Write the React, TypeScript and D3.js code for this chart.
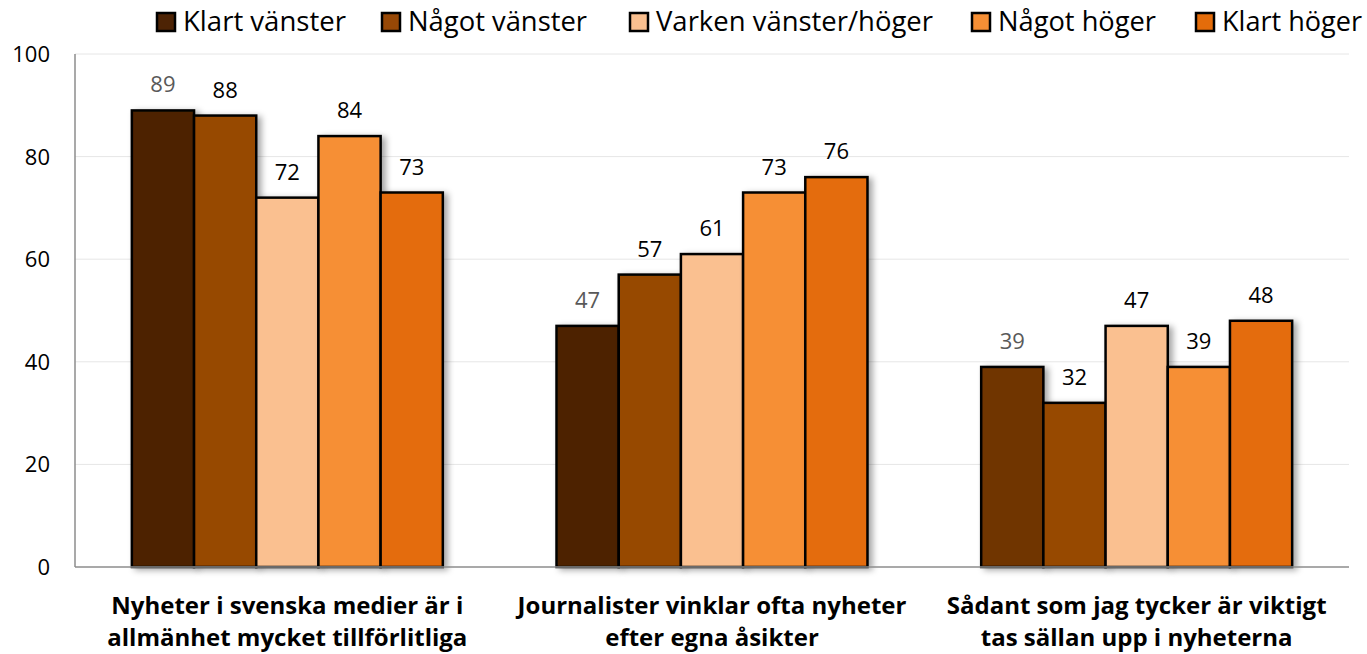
import React from "react";
import * as d3 from "d3";

const categories = [
  ["Nyheter i svenska medier är i", "allmänhet mycket tillförlitliga"],
  ["Journalister vinklar ofta nyheter", "efter egna åsikter"],
  ["Sådant som jag tycker är viktigt", "tas sällan upp i nyheterna"],
];
const seriesNames = ["Klart vänster", "Något vänster", "Varken vänster/höger", "Något höger", "Klart höger"];
const seriesColors = ["#4d2304", "#974806", "#fac090", "#f68f35", "#e46c0a"];
const klartVanster = [89, 47, 39];
const nagotVanster = [88, 57, 32];
const varken = [72, 61, 47];
const nagotHoger = [84, 73, 39];
const klartHoger = [73, 76, 48];
const seriesValues = [klartVanster, nagotVanster, varken, nagotHoger, klartHoger];
// per-point fill override (group 3, Klart vänster is a lighter brown)
const pointColorOverride: Record<string, string> = { "0-2": "#6f3403" };
const labelColors = ["#595959", "#000", "#000", "#000", "#000"];
const yTicks = [0, 20, 40, 60, 80, 100];

// legend layout (style, not data)
const legendX = [157, 382, 630, 972, 1196];
const legendTextW = [163, 179, 277, 158, 140];

const W = 1367;
const H = 654;
const FONT = "'Open Sans', Lato, sans-serif";

export default function App() {
  const x0 = d3.scaleBand<number>().domain([0, 1, 2]).range([75, 1349]).paddingInner(0).paddingOuter(0);
  const inner = 311 / 424.7;
  const x1 = d3
    .scaleBand<number>()
    .domain([0, 1, 2, 3, 4])
    .range([0, x0.bandwidth() * inner]);
  const off = (x0.bandwidth() * (1 - inner)) / 2;
  const y = d3.scaleLinear().domain([0, 100]).range([567, 54]);

  return (
    <svg width={W} height={H} style={{ position: "absolute", left: 0, top: 0, background: "#fff" }}>
      <defs>
        <filter id="sh" x="-20%" y="-20%" width="150%" height="140%">
          <feDropShadow dx="4" dy="2" stdDeviation="3" floodColor="#000" floodOpacity="0.35" />
        </filter>
      </defs>
      {/* gridlines */}
      {yTicks.filter((t) => t > 0).map((t) => (
        <line key={t} x1={75} x2={1349} y1={y(t)} y2={y(t)} stroke="#e6e6e6" strokeWidth={1} />
      ))}
      {/* y tick labels */}
      {yTicks.map((t) => (
        <text key={t} x={50} y={y(t)} dy="0.36em" textAnchor="end" fontFamily={FONT} fontSize={22} fill="#000">
          {t}
        </text>
      ))}
      {/* bars */}
      {categories.map((_, gi) =>
        seriesValues.map((vals, si) => {
          const v = vals[gi];
          const bx = (x0(gi) as number) + off + (x1(si) as number);
          const fill = pointColorOverride[`${si}-${gi}`] || seriesColors[si];
          return (
            <rect
              key={`${gi}-${si}`}
              x={bx}
              y={y(v)}
              width={x1.bandwidth()}
              height={y(0) - y(v)}
              fill={fill}
              stroke="#000"
              strokeWidth={2.5}
              filter="url(#sh)"
            />
          );
        })
      )}
      {/* value labels */}
      {categories.map((_, gi) =>
        seriesValues.map((vals, si) => {
          const v = vals[gi];
          const bx = (x0(gi) as number) + off + (x1(si) as number) + x1.bandwidth() / 2;
          return (
            <text
              key={`l${gi}-${si}`}
              x={bx}
              y={y(v) - 18}
              textAnchor="middle"
              fontFamily={FONT}
              fontSize={22}
              fill={labelColors[si]}
            >
              {v}
            </text>
          );
        })
      )}
      {/* axes */}
      <line x1={75} x2={75} y1={54} y2={567} stroke="#8c8c8c" strokeWidth={1.5} />
      <line x1={75} x2={1349} y1={567} y2={567} stroke="#8c8c8c" strokeWidth={1.5} />
      {/* category labels */}
      {categories.map((lines, gi) => {
        const cx = (x0(gi) as number) + x0.bandwidth() / 2;
        return (
          <text key={`c${gi}`} x={cx} textAnchor="middle" fontFamily={FONT} fontWeight="bold" fontSize={24} fill="#000">
            <tspan x={cx} y={614}>
              {lines[0]}
            </tspan>
            <tspan x={cx} y={646}>
              {lines[1]}
            </tspan>
          </text>
        );
      })}
      {/* legend */}
      {seriesNames.map((n, i) => (
        <g key={n}>
          <rect x={legendX[i]} y={13} width={18} height={18} fill={seriesColors[i]} stroke="#000" strokeWidth={2.5} />
          <text
            x={legendX[i] + 26}
            y={31}
            fontFamily={FONT}
            fontSize={27}
            fill="#000"
            textLength={legendTextW[i]}
            lengthAdjust="spacingAndGlyphs"
          >
            {n}
          </text>
        </g>
      ))}
    </svg>
  );
}
